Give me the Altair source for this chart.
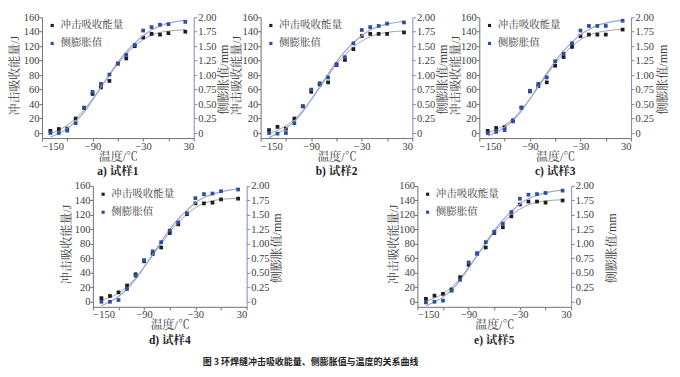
import altair as alt
import pandas as pd

FONT = "Liberation Serif, Noto Serif CJK SC, Noto Sans CJK SC, serif"
S1 = "冲击吸收能量"
S2 = "侧膨胀值"

temps = [-140, -130, -120, -110, -100, -90, -80, -70, -60, -50, -40, -30, -20, -10, 0, 20]
curve_t = [-140, -130, -120, -110, -100, -90, -80, -70, -60, -50, -40, -30, -20, -10, 0, 10, 20]
x_ticks = [-150, -120, -90, -60, -30, 0, 30]
left_ticks = [0, 20, 40, 60, 80, 100, 120, 140, 160]
right_ticks = [0, 0.25, 0.5, 0.75, 1.0, 1.25, 1.5, 1.75, 2.0]

captions = ["a) 试样1", "b) 试样2", "c) 试样3", "d) 试样4", "e) 试样5"]
fig_caption = "图 3   环焊缝冲击吸收能量、侧膨胀值与温度的关系曲线"

# impact energy (J) points
energy_a = [3, 5.5, 6, 20, 35, 54, 63, 72, 96, 103, 120, 132, 137, 136, 138, 140]
energy_b = [4, 8.5, 6, 20, 37, 57, 67, 70, 94, 101, 116, 134, 137, 137, 137, 139]
energy_c = [3, 7, 8, 17.5, 35, 57.5, 65, 70, 93, 105, 119, 134, 136, 136, 136, 143]
energy_d = [5, 8, 13, 22.5, 38, 56, 66, 75, 95, 107, 121, 136, 136, 137, 141.5, 142.5]
energy_e = [4, 8.5, 11, 17, 34, 51, 66, 75, 95, 103, 118, 134.5, 138.5, 138.5, 137, 140]

# lateral expansion (mm) points
expansion_a = [0.0, 0.0, 0.04, 0.17, 0.43, 0.71, 0.85, 1.01, 1.2, 1.35, 1.52, 1.77, 1.83, 1.87, 1.88, 1.92]
expansion_b = [0.0, -0.01, 0.0, 0.17, 0.46, 0.75, 0.86, 0.96, 1.19, 1.31, 1.55, 1.78, 1.83, 1.85, 1.89, 1.91]
expansion_c = [0.0, 0.02, 0.05, 0.2, 0.44, 0.73, 0.85, 0.96, 1.24, 1.37, 1.55, 1.77, 1.85, 1.85, 1.85, 1.94]
expansion_d = [0.0, 0.0, 0.03, 0.22, 0.45, 0.72, 0.87, 1.03, 1.23, 1.37, 1.53, 1.79, 1.86, 1.87, 1.91, 1.94]
expansion_e = [-0.01, 0.0, 0.02, 0.19, 0.38, 0.68, 0.84, 1.03, 1.21, 1.35, 1.55, 1.78, 1.85, 1.86, 1.88, 1.92]

# fitted curves
fit_energy_a = [-1, 4, 11, 20, 32, 47, 63, 80, 95, 109, 120, 129, 135, 139, 141, 142, 143]
fit_energy_b = [-1, 4, 10, 19, 31, 46, 62, 79, 95, 108, 119, 127, 133, 137, 139, 140.5, 141]
fit_energy_c = [0, 5, 11, 20, 32, 47, 63, 80, 96, 109, 120, 129, 135, 139, 141, 142.5, 143.5]
fit_energy_d = [2, 6, 12, 21, 33, 48, 64, 80, 96, 110, 121, 130, 136, 139.5, 141.5, 142.5, 143]
fit_energy_e = [1, 5, 11, 20, 32, 48, 64, 80, 96, 109, 120, 128, 134, 137.5, 139.5, 140.5, 141]

fit_expansion_a = [-0.07, -0.01, 0.08, 0.2, 0.36, 0.57, 0.79, 1.01, 1.22, 1.4, 1.55, 1.68, 1.78, 1.85, 1.9, 1.93, 1.95]
fit_expansion_b = [-0.08, -0.01, 0.08, 0.2, 0.37, 0.58, 0.8, 1.02, 1.23, 1.41, 1.56, 1.68, 1.78, 1.84, 1.88, 1.91, 1.93]
fit_expansion_c = [-0.05, 0.01, 0.1, 0.22, 0.38, 0.59, 0.81, 1.03, 1.24, 1.42, 1.57, 1.7, 1.79, 1.86, 1.9, 1.93, 1.95]
fit_expansion_d = [-0.07, 0.0, 0.09, 0.22, 0.39, 0.6, 0.82, 1.04, 1.25, 1.43, 1.58, 1.71, 1.8, 1.86, 1.9, 1.93, 1.95]
fit_expansion_e = [-0.07, 0.0, 0.08, 0.2, 0.37, 0.58, 0.8, 1.02, 1.23, 1.41, 1.56, 1.69, 1.78, 1.84, 1.88, 1.91, 1.93]

BLACK = "#1e1e1e"
BLUE = "#2c4f9f"
GRAY_LINE = "#a3a3a3"
BLUE_LINE = "#9aa4d8"
RIGHT_AXIS = "#7e86c8"
TEXT = "#3c3c3c"


def panel(energy, expansion, fit_e, fit_x, caption, w, left_title_x, right_title_x):
    df_e = pd.DataFrame({"T": temps, "v": energy, "s": S1})
    df_x = pd.DataFrame({"T": temps, "v": expansion, "s": S2})
    fe = pd.DataFrame({"T": curve_t, "v": fit_e})
    fx = pd.DataFrame({"T": curve_t, "v": fit_x})

    x = alt.X("T:Q", scale=alt.Scale(domain=[-150, 30], nice=False, zero=False),
              axis=alt.Axis(values=x_ticks, title="温度/℃", labelPadding=0, titleY=13))
    color = alt.Color("s:N",
                      scale=alt.Scale(domain=[S1, S2], range=[BLACK, BLUE]),
                      legend=alt.Legend(title=None, orient="none", legendX=5, legendY=3,
                                        symbolType="square", symbolSize=10, symbolStrokeWidth=0,
                                        labelFont=FONT, labelFontSize=10.5, labelColor=TEXT,
                                        rowPadding=7, padding=0, labelOffset=3))
    y_left = alt.Y("v:Q", scale=alt.Scale(domain=[-7, 160], nice=False, zero=False),
                   axis=alt.Axis(orient="left", values=left_ticks, title="冲击吸收能量/J",
                                 labelPadding=0,
                                 titleAngle=270, titleBaseline="middle", titleX=-left_title_x,
                                 titleY=58))
    y_right = alt.Y("v:Q", scale=alt.Scale(domain=[-0.0875, 2.0], nice=False, zero=False),
                    axis=alt.Axis(orient="right", values=right_ticks, title="侧膨胀值/mm",
                                  labelExpr="datum.value == 0 ? '0' : format(datum.value, '.2f')",
                                  titleAngle=270, titleBaseline="middle", titleX=right_title_x,
                                  titleY=62,
                                  domainColor=RIGHT_AXIS, tickColor=RIGHT_AXIS))

    left = alt.layer(
        alt.Chart(fe).mark_line(color=GRAY_LINE, strokeWidth=1, interpolate="monotone"),
        alt.Chart(df_e).mark_square(size=14, opacity=1).encode(color=color),
    ).encode(x=x, y=y_left)
    right = alt.layer(
        alt.Chart(fx).mark_line(color=BLUE_LINE, strokeWidth=1.2, interpolate="monotone"),
        alt.Chart(df_x).mark_square(size=14, opacity=1).encode(color=color),
    ).encode(x=x, y=y_right)

    return alt.layer(left, right).resolve_scale(y="independent").properties(
        width=w, height=121,
        title=alt.TitleParams(caption, orient="bottom", anchor="middle", font=FONT,
                              fontSize=11.5, fontWeight="bold", color="#222", offset=4),
    )


pa = panel(energy_a, expansion_a, fit_energy_a, fit_expansion_a, captions[0], 152, 27, 30)
pb = panel(energy_b, expansion_b, fit_energy_b, fit_expansion_b, captions[1], 152, 24, 30)
pc = panel(energy_c, expansion_c, fit_energy_c, fit_expansion_c, captions[2], 152, 24, 31)
pd_ = panel(energy_d, expansion_d, fit_energy_d, fit_expansion_d, captions[3], 154, 26, 30)
pe = panel(energy_e, expansion_e, fit_energy_e, fit_expansion_e, captions[4], 154, 24, 40)

top = alt.hconcat(pa, pb, pc, spacing=67, bounds="flush").resolve_scale(color="independent")
bottom = alt.hconcat(pd_, pe, spacing=171, bounds="flush").resolve_scale(color="independent")

chart = alt.vconcat(top, bottom, spacing=3, center=True).resolve_scale(color="independent").properties(
    title=alt.TitleParams(fig_caption, orient="bottom", anchor="middle", font="Noto Sans CJK SC",
                          fontSize=9, fontWeight="bold", color="#222", offset=12, dx=-28),
    padding={"left": 1, "top": 4, "right": 4, "bottom": 0},
).configure_view(stroke=None).configure_axis(
    grid=False, labelFont=FONT, labelFontSize=10.5, labelColor=TEXT,
    titleFont=FONT, titleFontSize=12, titleFontWeight="normal", titleColor=TEXT,
    domainColor="#707070", tickColor="#707070", tickSize=3, labelPadding=1, titlePadding=2,
)

chart.save("out.html", embed_options={"renderer": "svg", "actions": False})
